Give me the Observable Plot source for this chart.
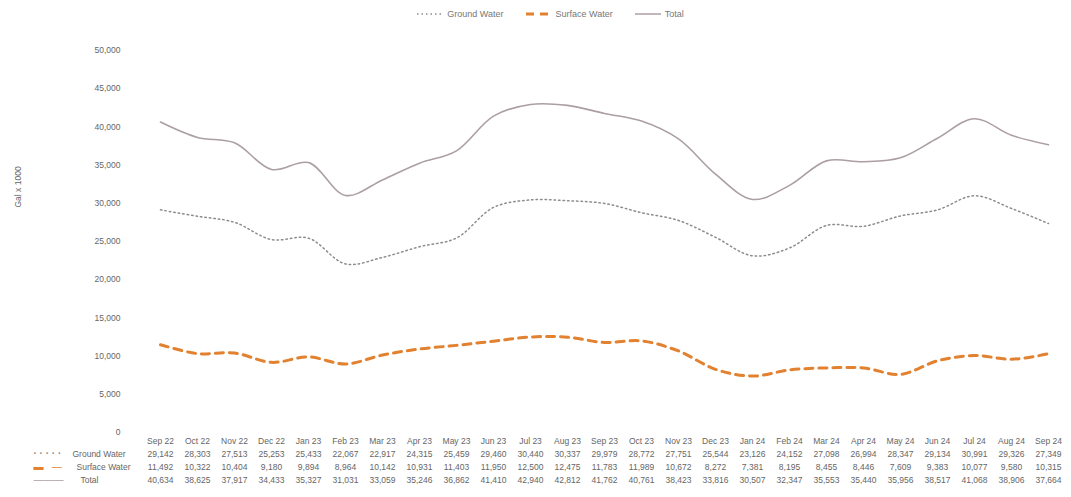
<!DOCTYPE html>
<html><head><meta charset="utf-8">
<script src="https://cdn.jsdelivr.net/npm/d3@7"></script>
<script src="https://cdn.jsdelivr.net/npm/@observablehq/plot@0.6"></script>
<style>
body{margin:0;background:#fff;font-family:"Liberation Sans Narrow","Liberation Sans",sans-serif;}
#legend{height:22px;display:flex;justify-content:center;align-items:center;gap:22px;font-size:9px;color:#777;padding-left:30px;box-sizing:border-box;position:relative;top:3px;}
#legend span{display:flex;align-items:center;gap:4px;}
#chart{margin-top:-3px;}
</style></head>
<body>
<div id="legend"></div>
<div id="chart" style="position:relative;top:3px"></div>
<script>
const months = ["Sep 22","Oct 22","Nov 22","Dec 22","Jan 23","Feb 23","Mar 23","Apr 23","May 23","Jun 23","Jul 23","Aug 23","Sep 23","Oct 23","Nov 23","Dec 23","Jan 24","Feb 24","Mar 24","Apr 24","May 24","Jun 24","Jul 24","Aug 24","Sep 24"];
const groundWater = [29142,28303,27513,25253,25433,22067,22917,24315,25459,29460,30440,30337,29979,28772,27751,25544,23126,24152,27098,26994,28347,29134,30991,29326,27349];
const surfaceWater = [11492,10322,10404,9180,9894,8964,10142,10931,11403,11950,12500,12475,11783,11989,10672,8272,7381,8195,8455,8446,7609,9383,10077,9580,10315];
const total = [40634,38625,37917,34433,35327,31031,33059,35246,36862,41410,42940,42812,41762,40761,38423,33816,30507,32347,35553,35440,35956,38517,41068,38906,37664];
const yTicks = [0,5000,10000,15000,20000,25000,30000,35000,40000,45000,50000];
const seriesNames = ["Ground Water","Surface Water","Total"];

const gwColor = "#8c8c8c", swColor = "#e2812f", totColor = "#ab9ea4";
const fmt = d3.format(",");
const rows = months.map((m,i)=>({month:m, gw:groundWater[i], sw:surfaceWater[i], tot:total[i]}));

// legend
const leg = document.getElementById("legend");
const swatches = [
  `<svg width="26" height="6"><line x1="0" y1="3" x2="26" y2="3" stroke="${gwColor}" stroke-width="1.5" stroke-dasharray="1.5,3"/></svg>`,
  `<svg width="26" height="6"><line x1="0" y1="3" x2="26" y2="3" stroke="${swColor}" stroke-width="3" stroke-dasharray="8,6"/></svg>`,
  `<svg width="26" height="6"><line x1="0" y1="3" x2="26" y2="3" stroke="${totColor}" stroke-width="1.5"/></svg>`
];
seriesNames.forEach((n,i)=>{ const s=document.createElement("span"); s.innerHTML=swatches[i]+n; leg.appendChild(s); });

const txt = {fontSize: 8.5, fill: "#666"};
const chart = Plot.plot({
  width: 1071, height: 475,
  marginLeft: 158, marginRight: 21, marginTop: 28, marginBottom: 65,
  style: {fontFamily: '"Liberation Sans Narrow","Liberation Sans",sans-serif', fontSize: "8.5px", color: "#666"},
  x: {type: "point", domain: months, padding: 0, label: null},
  y: {domain: [0, 50000], ticks: yTicks, label: null},
  marks: [
    Plot.axisY({ticks: yTicks, tickSize: 0, tickPadding: 38, tickFormat: d => fmt(d), label: null, fill: "#666"}),
    Plot.axisX({tickSize: 0, tickPadding: 5, label: null, fill: "#666"}),
    Plot.text(["Gal x 1000"], {frameAnchor: "left", rotate: -90, dx: -140, dy: -34, ...txt}),
    Plot.line(rows, {x: "month", y: "tot", stroke: totColor, strokeWidth: 1.6, curve: "catmull-rom"}),
    Plot.line(rows, {x: "month", y: "gw", stroke: gwColor, strokeWidth: 1.5, strokeDasharray: "1.5,3", curve: "catmull-rom"}),
    Plot.line(rows, {x: "month", y: "sw", stroke: swColor, strokeWidth: 3, strokeDasharray: "8,6", curve: "catmull-rom"}),
    // data table
    Plot.text(rows, {x: "month", text: d => fmt(d.gw), frameAnchor: "bottom", dy: 24, ...txt}),
    Plot.text(rows, {x: "month", text: d => fmt(d.sw), frameAnchor: "bottom", dy: 37, ...txt}),
    Plot.text(rows, {x: "month", text: d => fmt(d.tot), frameAnchor: "bottom", dy: 50, ...txt}),
    Plot.text([seriesNames[0]], {frameAnchor: "bottom-left", dx: -86, dy: 24, textAnchor: "start", ...txt}),
    Plot.text([seriesNames[1]], {frameAnchor: "bottom-left", dx: -82, dy: 37, textAnchor: "start", ...txt}),
    Plot.text([seriesNames[2]], {frameAnchor: "bottom-left", dx: -78, dy: 50, textAnchor: "start", ...txt}),
    Plot.text(["· · · · ·"], {frameAnchor: "bottom-left", dx: -125, dy: 24, textAnchor: "start", fontSize: 10, fill: gwColor, fontWeight: "bold"}),
    Plot.text(["▬   —"], {frameAnchor: "bottom-left", dx: -125, dy: 37, textAnchor: "start", fontSize: 10, fill: swColor}),
    Plot.text(["———"], {frameAnchor: "bottom-left", dx: -125, dy: 50, textAnchor: "start", fontSize: 10, fill: totColor})
  ]
});
document.getElementById("chart").appendChild(chart);
</script>
</body></html>
